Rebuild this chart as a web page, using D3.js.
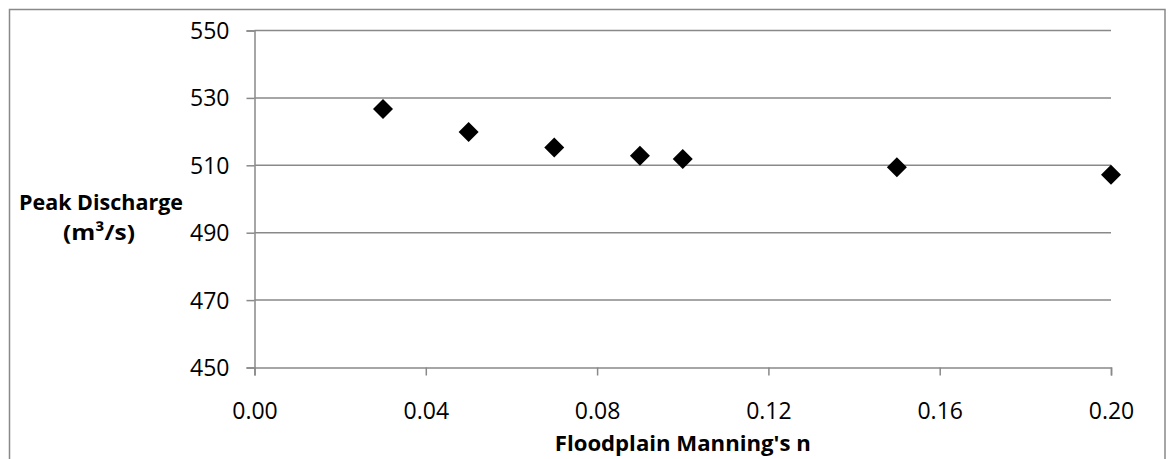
<!DOCTYPE html>
<html>
<head>
<meta charset="utf-8">
<script src="https://cdn.jsdelivr.net/npm/d3@7"></script>
<style>
  html, body { margin: 0; padding: 0; background: #fff; }
  svg { display: block; }
  text { font-family: "Open Sans", "Liberation Sans", sans-serif; fill: #000; }
</style>
</head>
<body>
<svg id="chart" width="1171" height="459"></svg>
<script>
const manningN = [0.03, 0.05, 0.07, 0.09, 0.10, 0.15, 0.20];
const peakDischarge = [526.7, 519.9, 515.3, 512.8, 511.9, 509.4, 507.2];
const xTickValues = [0.00, 0.04, 0.08, 0.12, 0.16, 0.20];
const yTickValues = [450, 470, 490, 510, 530, 550];
const xTitle = "Floodplain Manning's n";
const yTitleLines = ["Peak Discharge", "(m³/s)"];

const plot = { left: 254.5, right: 1111, top: 30.5, bottom: 367.5 };
const grey = "#898989";

const svg = d3.select("#chart");

// outer frame
svg.append("rect")
  .attr("x", 9.5).attr("y", 9.5)
  .attr("width", 1165 - 9.5).attr("height", 480)
  .attr("fill", "none").attr("stroke", grey).attr("stroke-width", 1.5);

const x = d3.scaleLinear().domain([0, 0.20]).range([plot.left, plot.right]);
const y = d3.scaleLinear().domain([450, 550]).range([plot.bottom, plot.top]);

// gridlines
svg.append("g").selectAll("line")
  .data(yTickValues.filter(v => v !== 450))
  .join("line")
  .attr("x1", plot.left).attr("x2", plot.right)
  .attr("y1", d => y(d)).attr("y2", d => y(d))
  .attr("stroke", grey).attr("stroke-width", 1.5);

// y axis
const yAxis = svg.append("g")
  .attr("transform", `translate(${plot.left},0)`)
  .call(d3.axisLeft(y).tickValues(yTickValues).tickSize(8).tickPadding(17).tickFormat(d3.format("d")));
yAxis.select(".domain").attr("stroke", grey).attr("stroke-width", 1.5);
yAxis.selectAll(".tick line").attr("stroke", grey).attr("stroke-width", 1.5);
yAxis.selectAll(".tick text")
  .style("font-family", '"Open Sans", sans-serif')
  .style("font-size", "23px").attr("fill", "#000").attr("dy", "0.35em");

// x axis
const xAxis = svg.append("g")
  .attr("transform", `translate(0,${plot.bottom})`)
  .call(d3.axisBottom(x).tickValues(xTickValues).tickSize(8).tickPadding(24).tickFormat(d3.format(".2f")));
xAxis.select(".domain").attr("stroke", grey).attr("stroke-width", 1.5);
xAxis.selectAll(".tick line").attr("stroke", grey).attr("stroke-width", 1.5);
xAxis.selectAll(".tick text")
  .style("font-family", '"Open Sans", sans-serif')
  .style("font-size", "23px").attr("fill", "#000").attr("dy", "0.35em").attr("y", 43);

// x axis title
svg.append("text")
  .attr("x", (plot.left + plot.right) / 2)
  .attr("y", 451)
  .attr("text-anchor", "middle")
  .style("font-size", "22px").style("font-weight", "bold")
  .attr("textLength", 256).attr("lengthAdjust", "spacingAndGlyphs")
  .text(xTitle);

// y axis title (horizontal, two lines)
const yt = svg.append("text")
  .attr("text-anchor", "middle")
  .style("font-size", "22px").style("font-weight", "bold");
yt.append("tspan").attr("x", 101).attr("y", 210)
  .attr("textLength", 164).attr("lengthAdjust", "spacingAndGlyphs")
  .text(yTitleLines[0]);
yt.append("tspan").attr("x", 99).attr("y", 240)
  .attr("textLength", 72).attr("lengthAdjust", "spacingAndGlyphs")
  .text(yTitleLines[1]);

// markers (diamonds)
const r = 10;
const pts = manningN.map((n, i) => ({ n, q: peakDischarge[i] }));
svg.append("g").selectAll("path")
  .data(pts)
  .join("path")
  .attr("transform", d => `translate(${x(d.n)},${y(d.q)})`)
  .attr("d", `M0,${-r}L${r},0L0,${r}L${-r},0Z`)
  .attr("fill", "#000");
</script>
</body>
</html>
